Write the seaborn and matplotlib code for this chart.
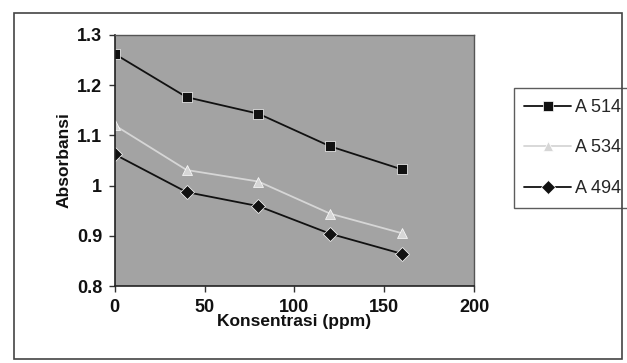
import matplotlib
matplotlib.use("Agg")
import matplotlib.pyplot as plt
import seaborn as sns
import pandas as pd
from matplotlib.ticker import FuncFormatter
from matplotlib.patches import Rectangle

konsentrasi = [0, 40, 80, 120, 160]
a514 = [1.262, 1.176, 1.143, 1.078, 1.032]
a534 = [1.120, 1.031, 1.008, 0.944, 0.905]
a494 = [1.062, 0.987, 0.959, 0.904, 0.864]
series_names = ["A 514", "A 534", "A 494"]
x_ticks = [0, 50, 100, 150, 200]
y_ticks = [0.8, 0.9, 1.0, 1.1, 1.2, 1.3]

df = pd.DataFrame({
    "Konsentrasi": konsentrasi * 3,
    "Absorbansi": a514 + a534 + a494,
    "Seri": [series_names[0]] * 5 + [series_names[1]] * 5 + [series_names[2]] * 5,
})

sns.set_theme(style="white")
plt.rcParams["font.family"] = ["Liberation Sans Narrow", "Liberation Sans", "DejaVu Sans"]

fig = plt.figure(figsize=(6.27, 3.63), dpi=100)
fig.patch.set_facecolor("white")
ax = fig.add_axes([0.183, 0.212, 0.573, 0.692])
ax.set_facecolor("#a3a3a3")

palette = {"A 514": "#111111", "A 534": "#d6d6d6", "A 494": "#111111"}
markers = {"A 514": "s", "A 534": "^", "A 494": "D"}
sns.lineplot(data=df, x="Konsentrasi", y="Absorbansi", hue="Seri", style="Seri",
             palette=palette, markers=markers, dashes=False, ax=ax,
             linewidth=1.3, markersize=7, markeredgewidth=0.5, legend=True)

ax.set_xlim(0, 200)
ax.set_ylim(0.8, 1.3)
ax.set_xticks(x_ticks)
ax.set_yticks(y_ticks)
ax.yaxis.set_major_formatter(FuncFormatter(lambda v, p: f"{v:g}"))
ax.tick_params(axis="both", which="major", labelsize=13, length=4, width=1,
               direction="out", color="#333333", labelcolor="#111111", bottom=True, left=True)
ax.tick_params(axis="x", pad=5)
ax.tick_params(axis="y", pad=5)
for t in ax.get_xticklabels() + ax.get_yticklabels():
    t.set_fontweight("bold")
ax.set_xlabel("Konsentrasi (ppm)", fontsize=12.5, fontweight="bold", labelpad=-1, color="#111111")
ax.set_ylabel("Absorbansi", fontsize=12.5, fontweight="bold", labelpad=4, color="#111111")
for side in ["left", "bottom"]:
    ax.spines[side].set_color("#222222")
    ax.spines[side].set_linewidth(1.2)
for side in ["top", "right"]:
    ax.spines[side].set_color("#555555")
    ax.spines[side].set_linewidth(1.0)

handles, labels = ax.get_legend_handles_labels()
leg = ax.legend(handles, labels, loc="center left", bbox_to_anchor=(1.085, 0.55),
                frameon=True, fancybox=False, fontsize=13, handlelength=2.6,
                labelspacing=1.3, borderpad=0.6, handletextpad=0.2, title=None)
leg.get_frame().set_edgecolor("#333333")
leg.get_frame().set_linewidth(1.0)

fig.patches.append(Rectangle((0.022, 0.01), 0.97, 0.955, transform=fig.transFigure,
                             fill=False, edgecolor="#444444", linewidth=1.2))

fig.savefig("out.png", dpi=100)
